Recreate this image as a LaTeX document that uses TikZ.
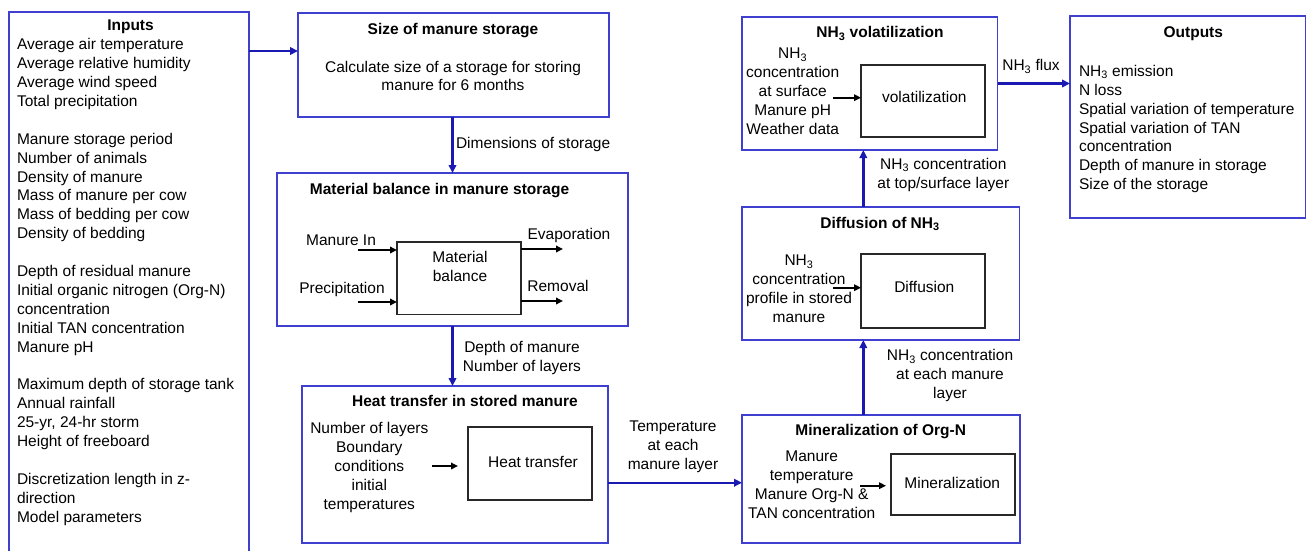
\documentclass[tikz,border=0pt]{standalone}
\usepackage{fontspec}
\setmainfont{Liberation Sans}
\usetikzlibrary{arrows.meta}
\definecolor{boxblue}{RGB}{64,64,208}
\definecolor{arrblue}{RGB}{26,26,178}
\definecolor{innerc}{RGB}{40,40,40}
\newcommand{\nhthree}{NH\textsubscript{3}}
\begin{document}
\begin{tikzpicture}[x=1pt,y=-1pt,
  every node/.style={font=\fontsize{15.5}{18.9}\selectfont, inner sep=0pt, outer sep=0pt},
  box/.style={draw=boxblue, line width=1.3pt, anchor=north west},
  ibox/.style={draw=innerc, line width=1.8pt, anchor=north west},
  ttl/.style={font=\fontsize{15.5}{18.9}\selectfont\bfseries, anchor=base},
  txt/.style={anchor=base},
  lbl/.style={align=center},
  conn/.style={draw=arrblue, line width=2.4pt, -{Triangle[length=8pt,width=7.5pt]}},
  iarr/.style={draw=black, line width=1.8pt, -{Triangle[length=7pt,width=6.5pt]}},
]
\useasboundingbox (0,0) rectangle (1307,550);
% boxes
\node[box, minimum width=240pt, minimum height=546pt] (inputs) at (9,12) {};
\node[box, minimum width=311pt, minimum height=104pt] (size) at (298,13) {};
\node[box, minimum width=351pt, minimum height=153pt] (mat) at (277,173) {};
\node[box, minimum width=306pt, minimum height=157pt] (heat) at (302,386) {};
\node[box, minimum width=278pt, minimum height=128pt] (minr) at (742,415) {};
\node[box, minimum width=277.5pt, minimum height=133pt] (diff) at (742,207) {};
\node[box, minimum width=255.5pt, minimum height=133pt] (vol) at (742,17) {};
\node[box, minimum width=235.5pt, minimum height=202pt] (out) at (1070,16) {};
% inner boxes
\node[ibox, minimum width=124pt, minimum height=72.5pt] (mbal) at (397,242) {};
\node[ibox, minimum width=124pt, minimum height=72.7pt] (hbox) at (468.3,427.3) {};
\node[ibox, minimum width=124pt, minimum height=61pt] (mbox) at (891,454) {};
\node[ibox, minimum width=124pt, minimum height=73.4pt] (dbox) at (861,254.3) {};
\node[ibox, minimum width=124pt, minimum height=71.7pt] (vbox) at (861,65) {};
% inputs
\node[ttl] (tin) at (130.5,30.5) {Inputs};
\node[anchor=north west, align=left] (lin) at (17,38.5) {Average air temperature\\
Average relative humidity\\
Average wind speed\\
Total precipitation\\[18.9pt]
Manure storage period\\
Number of animals\\
Density of manure\\
Mass of manure per cow\\
Mass of bedding per cow\\
Density of bedding\\[18.9pt]
Depth of residual manure\\
Initial organic nitrogen (Org-N)\\
concentration\\
Initial TAN concentration\\
Manure pH\\[18.9pt]
Maximum depth of storage tank\\
Annual rainfall\\
25-yr, 24-hr storm\\
Height of freeboard\\[18.9pt]
Discretization length in z-\\
direction\\
Model parameters};
% size of storage
\node[ttl] (tsize) at (453,34.5) {Size of manure storage};
\node[lbl] (bsize) at (453,76) {Calculate size of a storage for storing\\manure for 6 months};
\node[anchor=base west] (ldim) at (456,148.5) {Dimensions of storage};
% material balance
\node[ttl] (tmat) at (439.5,194.5) {Material balance in manure storage};
\node[lbl] (tmbal) at (460,266.5) {Material\\balance};
\node[txt] (lmi) at (341,245.5) {Manure In};
\node[txt] (lpr) at (342,293.5) {Precipitation};
\node[txt] (lev) at (569,239.5) {Evaporation};
\node[txt] (lrm) at (558,291.5) {Removal};
\node[lbl] (ldepth) at (522,358) {Depth of manure\\Number of layers};
% heat transfer
\node[ttl] (theat) at (465,406.5) {Heat transfer in stored manure};
\node[lbl] (lheat) at (369.3,467.2) {Number of layers\\Boundary\\conditions\\initial\\temperatures};
\node[txt] (thbox) at (533,467.2) {Heat transfer};
\node[lbl] (ltemp) at (673,446.7) {Temperature\\at each\\manure layer};
% mineralization
\node[ttl] (tmin) at (880.7,435.5) {Mineralization of Org-N};
\node[lbl] (lmin) at (811.7,485) {Manure\\temperature\\Manure Org-N \&\\TAN concentration};
\node[txt] (tmbox) at (952.3,488.8) {Mineralization};
\node[lbl] (lnheach) at (950,375.7) {\nhthree{} concentration\\at each manure\\layer};
% diffusion
\node[ttl] (tdiff) at (880,228.2) {Diffusion of \nhthree};
\node[lbl] (ldiff) at (799,288.5) {\nhthree\\concentration\\profile in stored\\manure};
\node[txt] (tdbox) at (924.3,292.8) {Diffusion};
\node[lbl] (lnhtop) at (943.3,174.7) {\nhthree{} concentration\\at top/surface layer};
% volatilization
\node[ttl] (tvol) at (880,37.8) {\nhthree{} volatilization};
\node[lbl] (lvol) at (792.7,91.3) {\nhthree\\concentration\\at surface\\Manure pH\\Weather data};
\node[txt] (tvbox) at (924.3,102.2) {volatilization};
\node[txt] (lflux) at (1031,70.5) {\nhthree{} flux};
% outputs
\node[ttl] (tout) at (1193.3,37.8) {Outputs};
\node[anchor=north west, align=left] (lout) at (1079,65.1) {\nhthree{} emission\\
N loss\\
Spatial variation of temperature\\
Spatial variation of TAN\\
concentration\\
Depth of manure in storage\\
Size of the storage};
% main connectors
\draw[conn] (inputs.east |- 0,51) -- (size.west |- 0,51);
\draw[conn] (mat.north |- size.south) -- (mat.north);
\draw[conn] (mat.south) -- (mat.south |- heat.north);
\draw[conn] (heat.east |- 0,482.7) -- (minr.west |- 0,482.7);
\draw[conn] (minr.north -| 863.3,0) -- (diff.south -| 863.3,0);
\draw[conn] (diff.north -| 863.3,0) -- (vol.south -| 863.3,0);
\draw[conn] (vol.east |- 0,83.5) -- (out.west |- 0,83.5);
% inner arrows
\coordinate (cmi) at (358,250);
\coordinate (cpr) at (358,302);
\coordinate (cev) at (563,249);
\coordinate (crm) at (563,301);
\draw[iarr] (cmi) -- (mbal.west |- cmi);
\draw[iarr] (cpr) -- (mbal.west |- cpr);
\draw[iarr] (mbal.east |- cev) -- (cev);
\draw[iarr] (mbal.east |- crm) -- (crm);
\coordinate (ch1) at (432,466);
\coordinate (ch2) at (458,466);
\draw[iarr] (ch1) -- (ch2);
\coordinate (cm1) at (860,485.7);
\coordinate (cm2) at (886,485.7);
\draw[iarr] (cm1) -- (cm2);
\coordinate (cd1) at (833.3,287.7);
\draw[iarr] (cd1) -- (dbox.west |- cd1);
\coordinate (cv1) at (833.3,97.7);
\draw[iarr] (cv1) -- (vbox.west |- cv1);
\end{tikzpicture}
\end{document}
